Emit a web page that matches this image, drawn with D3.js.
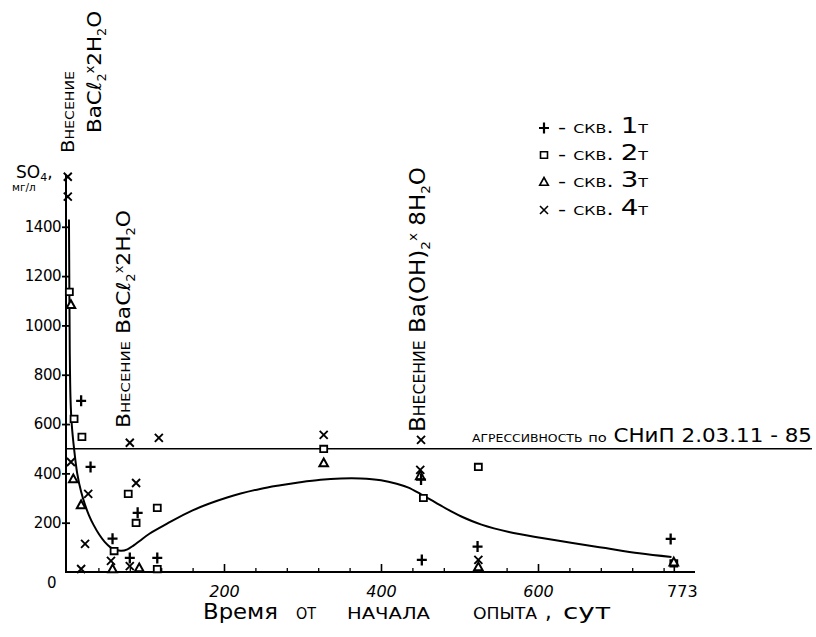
<!DOCTYPE html>
<html><head><meta charset="utf-8">
<script src="https://cdn.jsdelivr.net/npm/d3@7"></script>
<style>body{margin:0;background:#fff}svg{display:block;background:#fff}</style>
</head><body>
<svg id="c" width="816" height="637"></svg>
<script>
// ---- data ----
const xMajorTicks = [200, 400, 600, 773];
const xMinorTicks = [40, 80, 120, 160, 240, 280, 320, 360, 440, 480, 520, 560, 640, 680, 720, 760];
const yTicks = [0, 200, 400, 600, 800, 1000, 1200, 1400];
const aggressiveLevel = 500;

// скв. 1т (+)
const well1Days = [18, 30, 58, 80, 90, 115, 451, 452, 523, 769];
const well1SO4  = [694, 426, 135, 57, 240, 57, 375, 49, 103, 134];
// скв. 2т (□)
const well2Days = [3, 9, 19, 60, 78, 88, 115, 115, 327, 454, 524, 773];
const well2SO4  = [1136, 621, 548, 85, 317, 199, 260, 12, 499, 300, 426, 35];
// скв. 3т (△)
const well3Days = [5, 8, 18, 58, 92, 327, 450, 524, 773];
const well3SO4  = [1084, 377, 272, 12, 16, 442, 390, 20, 40];
// скв. 4т (x)
const well4Days = [1, 1, 5, 27, 23, 18, 56, 80, 80, 88, 117, 327, 451, 450, 524];
const well4SO4  = [1603, 1522, 446, 317, 114, 12, 45, 524, 24, 361, 544, 556, 536, 414, 49];

// averaged curve
const curveDays = [2.5, 3, 3.5, 4.5, 6, 9, 13, 18, 23, 28, 34, 41, 48, 55, 62, 69, 77, 85, 93, 105, 127, 160, 204, 246, 272, 297, 323, 349, 374, 400, 420, 435, 451, 465, 477, 490, 503, 528, 563, 605, 644, 686, 729, 770];
const curveSO4  = [1430, 1150, 900, 700, 600, 500, 400, 325, 272, 230, 190, 152, 122, 101, 90, 86, 92, 108, 127, 155, 195, 250, 302, 337, 352, 364, 374, 379, 379, 372, 358, 342, 315, 290, 268, 245, 224, 192, 162, 138, 118, 97, 76, 61];

const eventDays = [0, 80, 451];
const legendNames = ["1т", "2т", "3т", "4т"];
const xTitleWords = ["Время", "от", "начала", "опыта", ",", "сут"];

// ---- drawing ----
const svg = d3.select("#c");
const x = d3.scaleLinear().domain([0, 800]).range([67, 695]);
const y = d3.scaleLinear().domain([0, 1610]).range([572, 175]);
const FONT = "'DejaVu Sans', 'Liberation Sans', sans-serif";

// axes lines
svg.append("line").attr("x1", x(0) - 1).attr("x2", x(0) - 1).attr("y1", y(0)).attr("y2", y(1610))
  .attr("stroke", "#000").attr("stroke-width", 2);
svg.append("line").attr("x1", x(0) - 2).attr("x2", x(800)).attr("y1", y(0)).attr("y2", y(0))
  .attr("stroke", "#000").attr("stroke-width", 2);

// y axis ticks & labels
const yAxis = d3.axisLeft(y).tickValues(yTicks).tickSize(5).tickFormat(d3.format("d"));
const ya = svg.append("g").attr("transform", `translate(${x(0) - 1},0)`).call(yAxis);
ya.select(".domain").remove();
ya.selectAll(".tick line").attr("stroke", "#000").attr("stroke-width", 1.8).attr("x2", 4).attr("x1", -4);
ya.selectAll(".tick text").attr("font-family", FONT).attr("font-size", 15).attr("fill", "#000")
  .attr("x", -5).attr("letter-spacing", -0.5);
ya.selectAll(".tick").filter(d => d === 0).select("line").remove();
ya.selectAll(".tick").filter(d => d === 0).select("text").attr("dy", "1.0em").attr("x", -10);

// x axis minor / major ticks (inside, upward)
const xMinor = d3.axisBottom(x).tickValues(xMinorTicks).tickSize(-4).tickFormat("");
const xm = svg.append("g").attr("transform", `translate(0,${y(0)})`).call(xMinor);
xm.select(".domain").remove();
xm.selectAll(".tick line").attr("stroke", "#000").attr("stroke-width", 1.3);
const xMajor = d3.axisBottom(x).tickValues(xMajorTicks).tickSize(-8).tickPadding(14).tickFormat(d3.format("d"));
const xM = svg.append("g").attr("transform", `translate(0,${y(0)})`).call(xMajor);
xM.select(".domain").remove();
xM.selectAll(".tick line").attr("stroke", "#000").attr("stroke-width", 1.6);
xM.selectAll(".tick text").attr("font-family", FONT).attr("font-size", 16).attr("fill", "#000")
  .attr("font-style", "italic");
xM.selectAll(".tick").filter(d => d === 773).select("text").attr("dx", 8).attr("font-style", "normal");

// aggressiveness line
svg.append("line").attr("x1", x(0)).attr("x2", 812).attr("y1", y(aggressiveLevel)).attr("y2", y(aggressiveLevel))
  .attr("stroke", "#000").attr("stroke-width", 1.6);
const agg = svg.append("text").attr("x", 472).attr("y", y(aggressiveLevel) - 7)
  .attr("font-family", FONT).attr("font-size", 16).attr("fill", "#000")
  .attr("textLength", 340).attr("lengthAdjust", "spacingAndGlyphs");
agg.append("tspan").attr("font-variant", "small-caps").text("агрессивность ");
agg.append("tspan").attr("font-size", 13).text("по");
agg.append("tspan").attr("font-size", 19).text(" СНиП 2.03.11 - 85");

// curve
const line = d3.line().x(d => x(d[0])).y(d => y(d[1])).curve(d3.curveCatmullRom.alpha(0.5));
svg.append("path").datum(curveDays.map((d, i) => [d, curveSO4[i]]))
  .attr("d", line).attr("fill", "none").attr("stroke", "#000").attr("stroke-width", 2);

// markers
const symPaths = {
  plus: "M-5,0H5M0,-5.5V5.5",
  square: "M-3.5,-3.2H3.5V3.2H-3.5Z",
  tri: "M0,-4.5L4.3,3.3H-4.3Z",
  cross: "M-4,-4L4,4M-4,4L4,-4"
};
function drawSeries(days, vals, kind, sw) {
  svg.append("g").selectAll("path").data(days.map((d, i) => [d, vals[i]])).join("path")
    .attr("transform", d => `translate(${x(d[0])},${y(d[1])})`)
    .attr("d", symPaths[kind])
    .attr("fill", kind === "square" || kind === "tri" ? "#fff" : "none")
    .attr("stroke", "#000").attr("stroke-width", sw);
}
drawSeries(well2Days, well2SO4, "square", 1.8);
drawSeries(well3Days, well3SO4, "tri", 2);
drawSeries(well1Days, well1SO4, "plus", 2.3);
drawSeries(well4Days, well4SO4, "cross", 1.9);

// Y axis title
svg.append("text").attr("x", 16).attr("y", 178).attr("font-family", FONT).attr("font-size", 17).attr("fill", "#000")
  .html('SO<tspan font-size="11" dy="3">4</tspan><tspan dy="-3">,</tspan>');
svg.append("text").attr("x", 12).attr("y", 191).attr("font-family", FONT).attr("font-size", 10.5).attr("fill", "#000")
  .text("мг/л");

// event annotations (rotated)
function rotText(px, py, len, fs, build) {
  const t = svg.append("text").attr("transform", `translate(${px},${py}) rotate(-90)`)
    .attr("font-family", FONT).attr("font-size", fs).attr("fill", "#000")
    .attr("textLength", len).attr("lengthAdjust", "spacingAndGlyphs");
  build(t);
}
function vnes(t) {
  t.append("tspan").text("В");
  t.append("tspan").attr("font-variant", "small-caps").text("несение");
}
function bacl(t, fs) {
  t.append("tspan").text("Ba");
  t.append("tspan").text("Cℓ");
  t.append("tspan").attr("font-size", fs * 0.6).attr("dy", 5).text("2");
  t.append("tspan").attr("font-size", fs * 0.6).attr("dy", -12).text("x");
  t.append("tspan").attr("dy", 7).text("2H");
  t.append("tspan").attr("font-size", fs * 0.6).attr("dy", 5).text("2");
  t.append("tspan").attr("dy", -5).text("O");
}
// first event (day 0): two lines
rotText(x(eventDays[0]) + 7, 153, 82, 18, vnes);
rotText(x(eventDays[0]) + 34, 133, 122, 20, t => bacl(t, 20));
// second event (day 80)
rotText(x(eventDays[1]), 428, 218, 19, t => { vnes(t); t.append("tspan").text(" "); bacl(t, 19); });
// third event (day 451)
rotText(x(eventDays[2]) + 4, 432, 265, 22, t => {
  vnes(t);
  t.append("tspan").text("  Ba(OH)");
  t.append("tspan").attr("font-size", 13).attr("dy", 5).text("2");
  t.append("tspan").attr("font-size", 13).attr("dy", -13).text("x");
  t.append("tspan").attr("dy", 8).text(" 8H");
  t.append("tspan").attr("font-size", 13).attr("dy", 5).text("2");
  t.append("tspan").attr("dy", -5).text("O");
});

// legend
const legY = [133, 160, 187, 215];
const legKinds = ["plus", "square", "tri", "cross"];
legKinds.forEach((k, i) => {
  svg.append("path").attr("transform", `translate(${544},${legY[i] - 5})`).attr("d", symPaths[k])
    .attr("fill", "none").attr("stroke", "#000").attr("stroke-width", k === "plus" ? 2.2 : 1.6);
  const t = svg.append("text").attr("x", 558).attr("y", legY[i]).attr("font-family", FONT)
    .attr("font-size", 17).attr("fill", "#000").attr("textLength", 90).attr("lengthAdjust", "spacingAndGlyphs");
  t.append("tspan").attr("font-variant", "small-caps").text("- скв. ");
  t.append("tspan").attr("font-size", 21).text(legendNames[i][0]);
  t.append("tspan").attr("font-variant", "small-caps").text(legendNames[i].slice(1));
});

// x axis title (words placed individually, as in the drawing)
const wordX = [203, 296, 347, 473, 545, 563];
const wordW = [75, 20, 83, 64, 4, 48];
xTitleWords.forEach((w, i) => {
  const t = svg.append("text").attr("x", wordX[i]).attr("y", 619).attr("font-family", FONT)
    .attr("font-size", 21).attr("fill", "#000");
  if (w.length > 1) t.attr("textLength", wordW[i]).attr("lengthAdjust", "spacingAndGlyphs");
  if (i === 0 || i === 5) t.text(w);
  else t.attr("font-variant", "small-caps").text(w);
});
</script>
</body></html>
